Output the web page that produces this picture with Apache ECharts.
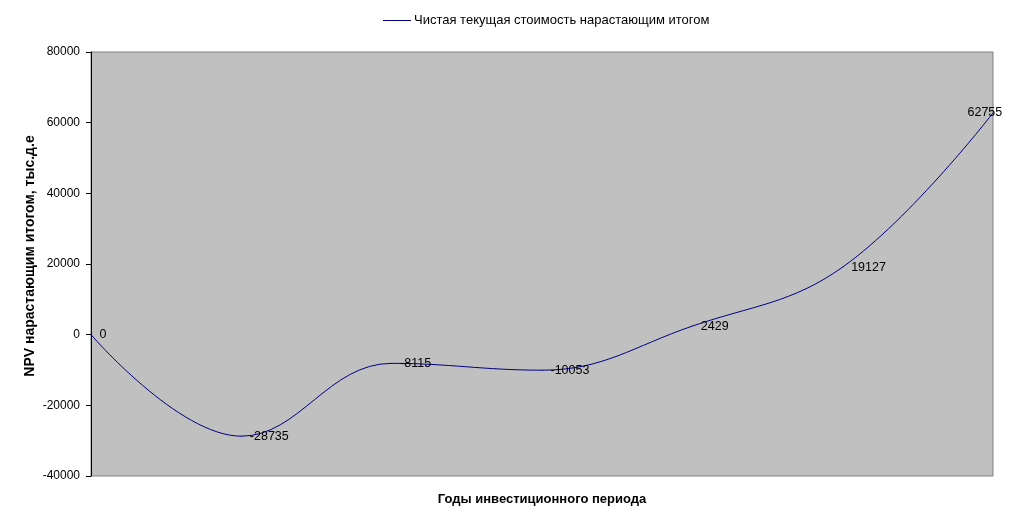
<!DOCTYPE html>
<html><head><meta charset="utf-8">
<script src="https://cdn.jsdelivr.net/npm/echarts@6/dist/echarts.min.js"></script>
<style>html,body{margin:0;padding:0;background:#fff}#c{width:1010px;height:529px}</style>
</head><body><div id="c"></div>
<script>
const categories = ['0','1','2','3','4','5','6'];
const npvValues = [0, -28735, -8115, -10053, 2429, 19127, 62755];
const yTicks = {min: -40000, max: 80000, interval: 20000};
const seriesName = 'Чистая текущая стоимость нарастающим итогом';

const chart = echarts.init(document.getElementById('c'));
const font = '"Liberation Sans", Arial, sans-serif';
chart.setOption({
  backgroundColor: '#ffffff',
  animation: false,
  textStyle: {fontFamily: font},
  legend: {
    top: 9, left: 378,
    itemWidth: 28, itemHeight: 1, itemGap: 4,
    icon: 'rect',
    textStyle: {fontSize: 13, color: '#000', fontFamily: font, padding: [0, 0, 0, -2]},
    data: [{name: seriesName, itemStyle: {color: '#000080', opacity: 1}}]
  },
  grid: {left: 91, right: 17, top: 52, bottom: 53, show: true, backgroundColor: '#c0c0c0', borderColor: '#808080', borderWidth: 1},
  xAxis: {
    type: 'category', data: categories, boundaryGap: false,
    name: 'Годы инвестиционного периода', nameLocation: 'middle', nameGap: 17,
    nameTextStyle: {fontSize: 13, fontWeight: 'bold', color: '#000', fontFamily: font},
    axisLine: {show: false}, axisTick: {show: false}, axisLabel: {show: false}, splitLine: {show: false}
  },
  yAxis: {
    type: 'value', min: yTicks.min, max: yTicks.max, interval: yTicks.interval,
    name: 'NPV нарастающим итогом, тыс.д.е', nameLocation: 'middle', nameGap: 54,
    nameMoveOverlap: false,
    nameTextStyle: {fontSize: 14, fontWeight: 'bold', color: '#000', fontFamily: font, padding: [0, 0, 0, 16]},
    axisLine: {show: true, lineStyle: {color: '#000', width: 1}},
    axisTick: {show: true, inside: false, length: 5, lineStyle: {color: '#000'}},
    axisLabel: {fontSize: 12, color: '#000', margin: 11, fontFamily: font, formatter: v => String(v)},
    splitLine: {show: false}
  },
  series: [{
    name: seriesName, type: 'line', smooth: 0.4,
    showSymbol: true, symbol: 'circle', symbolSize: 1,
    lineStyle: {color: '#000080', width: 1},
    itemStyle: {color: '#000080'},
    label: {show: true, position: 'right', distance: 8, fontSize: 12.5, color: '#000', fontFamily: font},
    data: npvValues.map((v, i) => i === npvValues.length - 1 ? {value: v, label: {offset: [-34, 0]}} : v)
  }]
});
</script></body></html>
